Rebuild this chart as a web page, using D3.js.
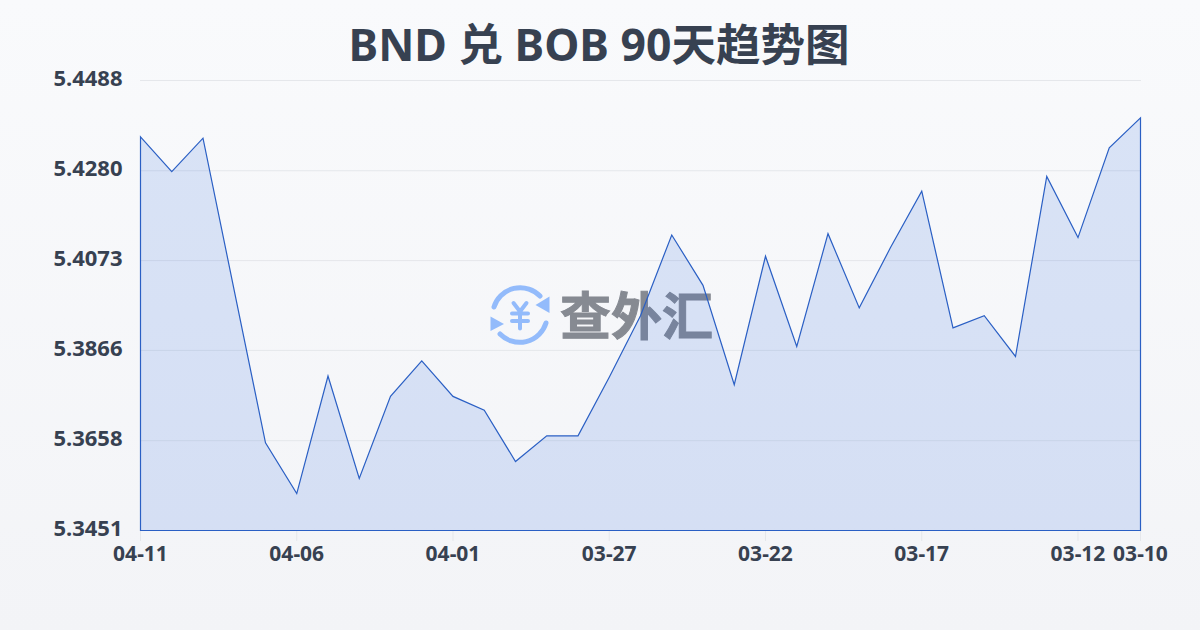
<!DOCTYPE html>
<html>
<head>
<meta charset="utf-8">
<script src="https://cdn.jsdelivr.net/npm/d3@7"></script>
<style>
html,body{margin:0;padding:0;width:1200px;height:630px;overflow:hidden;background:#f8fafc}
svg{display:block}
text{font-family:"Noto Sans","Noto Sans CJK SC",sans-serif}
</style>
</head>
<body>
<svg id="c" width="1200" height="630"></svg>
<script>
const titleText = "BND 兑 BOB 90天趋势图";
const watermarkText = "查外汇";
const dates = ["04-11","04-10","04-09","04-08","04-07","04-06","04-05","04-04","04-03","04-02","04-01",
  "03-31","03-30","03-29","03-28","03-27","03-26","03-25","03-24","03-23","03-22","03-21","03-20","03-19",
  "03-18","03-17","03-16","03-15","03-14","03-13","03-12","03-11","03-10"];
const rates = [5.4358,5.4278,5.4355,5.4004,5.3653,5.3536,5.3807,5.3571,5.3760,5.3842,5.3760,
  5.3728,5.3610,5.3669,5.3669,5.3804,5.3946,5.4132,5.4016,5.3787,5.4083,5.3875,5.4135,5.3964,
  5.4103,5.4233,5.3918,5.3946,5.3852,5.4267,5.4126,5.4333,5.4402];
const yTicks = ["5.3451","5.3658","5.3866","5.4073","5.4280","5.4488"];
const xTicks = ["04-11","04-06","04-01","03-27","03-22","03-17","03-12","03-10"];

const svg = d3.select("#c");
const defs = svg.append("defs");
const bg = defs.append("linearGradient").attr("id","bg").attr("x1",0).attr("y1",0).attr("x2",0).attr("y2",1);
bg.append("stop").attr("offset",0).attr("stop-color","#f9fafc");
bg.append("stop").attr("offset",1).attr("stop-color","#f3f4f7");
svg.append("rect").attr("width",1200).attr("height",630).attr("fill","url(#bg)");

const x = d3.scalePoint().domain(dates).range([140.5,1140.5]);
const y = d3.scaleLinear().domain([+yTicks[0], +yTicks[yTicks.length-1]]).range([530.5,80.5]);
const ink = "#374151";

// watermark
const wm = svg.append("g");
const blue = "#93bbfb";
const arcs = wm.append("g").attr("fill","none").attr("stroke",blue).attr("stroke-width",5).attr("stroke-linecap","round");
arcs.append("path").attr("d","M494 307 A27.5 27.5 0 0 1 540 296");
arcs.append("path").attr("d","M546 323 A27.5 27.5 0 0 1 500 334");
wm.append("path").attr("fill",blue).attr("d","M549.5 296.5 L549.5 313 L535.5 305 Z");
wm.append("path").attr("fill",blue).attr("d","M490.5 316.5 L490.5 331 L504 324 Z");
const yen = wm.append("g").attr("fill","none").attr("stroke",blue).attr("stroke-width",4).attr("stroke-linecap","round").attr("stroke-linejoin","round");
yen.append("path").attr("d","M513.5 303 L520 311.5 L526.5 303 M520 311.5 L520 328.5 M512 313.5 L528 313.5 M512 321 L528 321");
wm.append("text").attr("x",560).attr("y",335).attr("font-size",51).attr("font-weight",700)
  .attr("fill","#868a92").attr("stroke","#868a92").attr("stroke-width",1).text(watermarkText);

// grid
svg.append("g").selectAll("line").data(yTicks).join("line")
  .attr("x1",140).attr("x2",1141)
  .attr("y1",d=>y(+d)).attr("y2",d=>y(+d))
  .attr("stroke","#e5e7eb").attr("stroke-width",1);

// area
const area = d3.area().x((d,i)=>x(dates[i])).y0(y(+yTicks[0])).y1(d=>y(d));
svg.append("path").datum(rates).attr("d",area)
  .attr("fill","rgba(37,99,220,0.15)")
  .attr("stroke","#2a5fc4").attr("stroke-width",1.2).attr("stroke-linejoin","miter");

// x ticks
const gx = svg.append("g");
gx.selectAll("line").data(xTicks).join("line")
  .attr("x1",d=>x(d)).attr("x2",d=>x(d)).attr("y1",531).attr("y2",541)
  .attr("stroke","#e5e7eb").attr("stroke-width",1);
gx.selectAll("text").data(xTicks).join("text")
  .attr("x",d=>x(d)).attr("y",560.5).attr("text-anchor","middle")
  .attr("font-size",21).attr("font-weight",700).attr("fill",ink).text(d=>d);

// y labels
svg.append("g").selectAll("text").data(yTicks).join("text")
  .attr("x",122.5).attr("y",d=>y(+d)+5.5).attr("text-anchor","end")
  .attr("font-size",22).attr("font-weight",700).attr("fill",ink).text(d=>d);

// title
svg.append("text").attr("x",599).attr("y",60.5).attr("text-anchor","middle")
  .attr("font-size",44.5).attr("font-weight",700).attr("fill",ink).text(titleText);
</script>
</body>
</html>
